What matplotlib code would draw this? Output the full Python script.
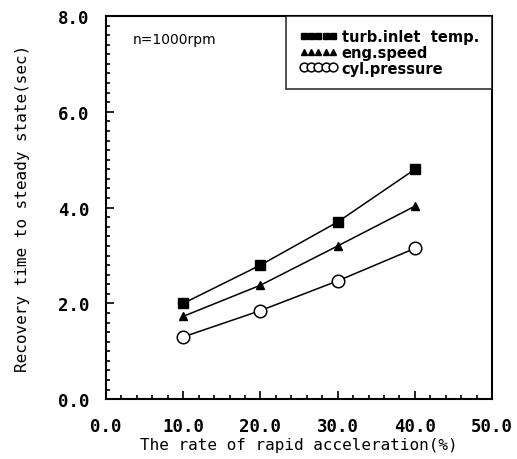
import matplotlib.pyplot as plt
from matplotlib.ticker import MultipleLocator

x = [10, 20, 30, 40]
y_turb = [2.0, 2.8, 3.7, 4.8]
y_eng = [1.73, 2.38, 3.2, 4.03]
y_cyl = [1.3, 1.85, 2.47, 3.15]

mono = 'DejaVu Sans Mono'

fig = plt.figure(figsize=(5.17, 4.6), dpi=100)
ax = fig.add_axes([0.205, 0.130, 0.747, 0.833])

ax.plot(x, y_turb, color='black', lw=1.1, marker='s', ms=7, label='turb.inlet  temp.')
ax.plot(x, y_eng, color='black', lw=1.1, marker='^', ms=6, label='eng.speed')
ax.plot(x, y_cyl, color='black', lw=1.1, marker='o', ms=9, mfc='white', mew=1.1, label='cyl.pressure')

ax.set_xlim(0, 50)
ax.set_ylim(0, 8)
ax.xaxis.set_major_locator(MultipleLocator(10))
ax.xaxis.set_minor_locator(MultipleLocator(2))
ax.yaxis.set_major_locator(MultipleLocator(2))
ax.yaxis.set_minor_locator(MultipleLocator(0.2))
ax.tick_params(which='both', direction='in', top=False, right=False, width=1.2)
ax.tick_params(which='major', length=6)
ax.tick_params(axis='x', which='major', pad=13)
ax.tick_params(axis='y', which='major', pad=12)
ax.tick_params(which='minor', length=3)
ax.set_xticks([0, 10, 20, 30, 40, 50])
ax.set_xticklabels(['0.0', '10.0', '20.0', '30.0', '40.0', '50.0'], family=mono, fontsize=12.5, fontweight='bold')
ax.set_yticks([0, 2, 4, 6, 8])
ax.set_yticklabels(['0.0', '2.0', '4.0', '6.0', '8.0'], family=mono, fontsize=12.5, fontweight='bold')
for s in ax.spines.values():
    s.set_linewidth(1.5)

ax.set_xlabel('The rate of rapid acceleration(%)', family=mono, fontsize=11.5, labelpad=1)
ax.set_ylabel('Recovery time to steady state(sec)', family=mono, fontsize=11.5, labelpad=20)

ax.text(0.07, 0.94, 'n=1000rpm', transform=ax.transAxes, fontsize=10, va='center')

leg = ax.legend(loc='upper right', numpoints=5, handlelength=2.6, handletextpad=0.3,
                borderaxespad=0, prop={'size': 10.5, 'weight': 'bold'}, fancybox=False,
                edgecolor='black', labelspacing=0.05, markerscale=0.7, borderpad=0.9)
leg.get_frame().set_linewidth(1.2)
for line in leg.get_lines():
    line.set_linewidth(0)

fig.savefig('out.png', dpi=100)
